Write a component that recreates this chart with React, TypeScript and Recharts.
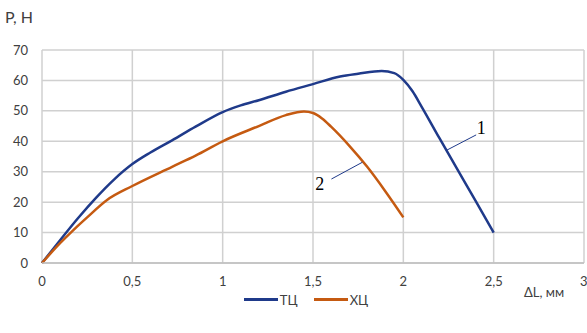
import {
  LineChart,
  Line,
  XAxis,
  YAxis,
  CartesianGrid,
  Legend,
  ReferenceLine,
  ReferenceDot,
} from 'recharts';

// ТЦ (curve 1)
const tcX = [0, 0.1, 0.2, 0.3, 0.4, 0.5, 0.6, 0.72, 0.85, 1, 1.1, 1.2, 1.35, 1.5, 1.65, 1.75, 1.88, 1.95, 2, 2.05, 2.1, 2.2, 2.3, 2.4, 2.5];
const tcY = [0, 7.5, 14.8, 21.5, 27.5, 32.5, 36.3, 40.3, 44.8, 49.6, 51.8, 53.5, 56.3, 58.8, 61.3, 62.2, 63.1, 62.4, 60.2, 56.5, 51.5, 41, 30.7, 20.4, 10];

// ХЦ (curve 2)
const hcX = [0, 0.1, 0.175, 0.25, 0.36, 0.5, 0.72, 0.85, 1, 1.2, 1.35, 1.45, 1.5, 1.55, 1.6, 1.7, 1.8, 1.9, 2];
const hcY = [0, 6.5, 10.9, 15, 20.7, 25.3, 31.6, 35.3, 40, 45, 48.6, 49.8, 49.3, 47.5, 44.8, 38.6, 31.6, 23.6, 15];

const xTicks = [0, 0.5, 1, 1.5, 2, 2.5, 3];
const yTicks = [0, 10, 20, 30, 40, 50, 60, 70];

const tcData = tcX.map((x, i) => ({ x, y: tcY[i] }));
const hcData = hcX.map((x, i) => ({ x, y: hcY[i] }));

const BLUE = '#1f3a8a';
const ORANGE = '#c55a11';
const FONT = 'Lato, "Open Sans", sans-serif';

function LegendContent() {
  const item = (color: string, label: string) => (
    <span style={{ display: 'inline-flex', alignItems: 'center', marginRight: 16 }}>
      <span style={{ display: 'inline-block', width: 34, height: 3, background: color, marginRight: 2 }} />
      <span>{label}</span>
    </span>
  );
  return (
    <div style={{ textAlign: 'center', fontFamily: FONT, fontSize: 13, color: '#404040', paddingLeft: 44 }}>
      {item(BLUE, 'ТЦ')}
      {item(ORANGE, 'ХЦ')}
    </div>
  );
}

export default function App() {
  return (
    <div style={{ position: 'absolute', left: 0, top: 0, width: 587, height: 333, background: '#fff' }}>
      <div style={{ position: 'absolute', left: 5, top: 7, fontFamily: FONT, fontSize: 16, color: '#404040' }}>
        P, Н
      </div>
      <div style={{ position: 'absolute', left: 524, top: 284, fontFamily: FONT, fontSize: 13, color: '#404040' }}>
        ΔL, мм
      </div>
      <LineChart width={587} height={333} margin={{ top: 50, right: 3, left: 0, bottom: 15 }}>
        <CartesianGrid stroke="#d0d0d0" strokeWidth={1.5} horizontalValues={yTicks} verticalValues={xTicks} />
        <XAxis
          type="number"
          dataKey="x"
          domain={[0, 3]}
          ticks={xTicks}
          height={25}
          tickSize={0}
          tickMargin={14}
          tickFormatter={(v: number) => String(v).replace('.', ',')}
          tick={{ fontSize: 13, fill: '#404040', fontFamily: FONT }}
          axisLine={{ stroke: '#bfbfbf', strokeWidth: 1.5 }}
          allowDuplicatedCategory={false}
        />
        <YAxis
          type="number"
          domain={[0, 70]}
          ticks={yTicks}
          width={42}
          tickSize={0}
          tickMargin={14}
          tick={{ fontSize: 13, fill: '#404040', fontFamily: FONT }}
          axisLine={false}
        />
        <Legend verticalAlign="bottom" height={30} content={<LegendContent />} />
        <Line
          data={tcData}
          dataKey="y"
          name="ТЦ"
          type="monotone"
          stroke={BLUE}
          strokeWidth={2.5}
          dot={false}
          isAnimationActive={false}
        />
        <Line
          data={hcData}
          dataKey="y"
          name="ХЦ"
          type="monotone"
          stroke={ORANGE}
          strokeWidth={2.5}
          dot={false}
          isAnimationActive={false}
        />
        <ReferenceLine segment={[{ x: 2.241, y: 37.1 }, { x: 2.403, y: 42.1 }]} stroke={BLUE} strokeWidth={1} />
        <ReferenceLine segment={[{ x: 1.602, y: 27.6 }, { x: 1.773, y: 33.1 }]} stroke={BLUE} strokeWidth={1} />
        <ReferenceDot
          x={2.431}
          y={44.4}
          r={0}
          label={{ value: '1', position: 'center', fontSize: 18, fill: '#000', fontFamily: '"Liberation Serif", serif' }}
        />
        <ReferenceDot
          x={1.538}
          y={26.2}
          r={0}
          label={{ value: '2', position: 'center', fontSize: 18, fill: '#000', fontFamily: '"Liberation Serif", serif' }}
        />
      </LineChart>
    </div>
  );
}
